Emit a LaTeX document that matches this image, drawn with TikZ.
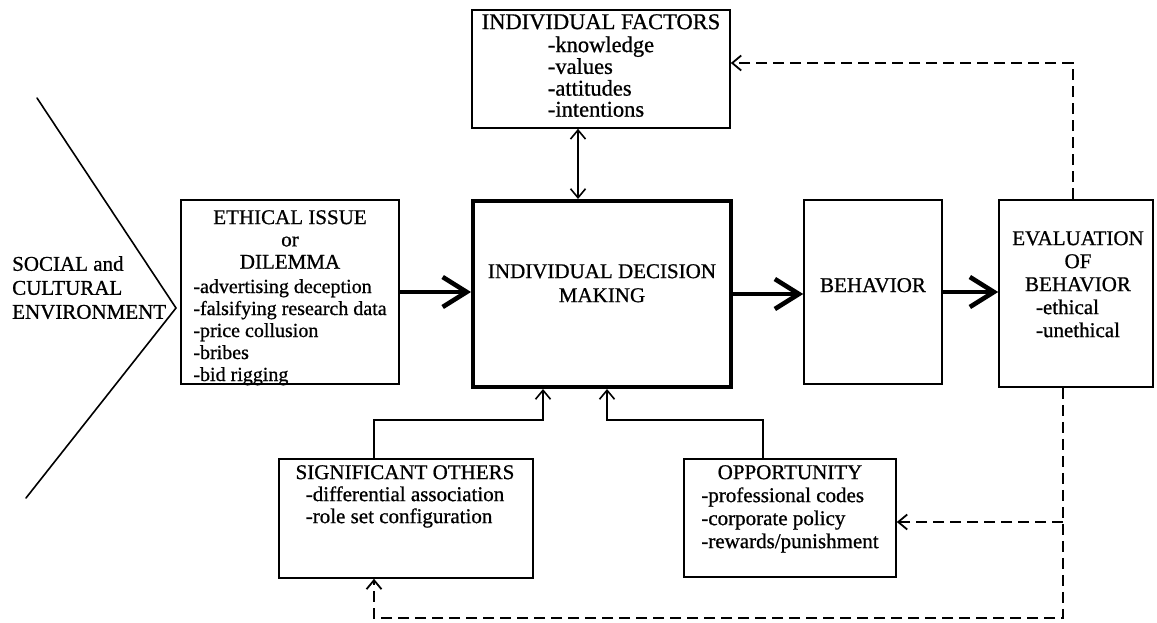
\documentclass[tikz,border=0pt]{standalone}
\usepackage{fontspec}
\setmainfont{Liberation Serif}[FakeBold=0.8]
\usetikzlibrary{arrows.meta}
\newcommand{\itemlist}[1]{\begin{tabular}[t]{@{}l@{}}#1\end{tabular}}

\begin{document}
\begin{tikzpicture}[x=1pt,y=-1pt,line cap=round,font=\fontsize{21}{22.3}\selectfont,
  box/.style={draw,line width=1.6pt,inner sep=0pt},
  txt/.style={align=center,inner sep=0pt,anchor=north},
  bigarrow/.style={line width=3.6pt,line cap=butt,-{Straight Barb[length=24pt,width=30pt,line width=4.6pt]}},
  linkarrow/.style={line width=1.6pt,-{Straight Barb[length=9pt,width=15pt]}},
  dblarrow/.style={line width=1.6pt,{Straight Barb[length=9pt,width=15pt]}-{Straight Barb[length=9pt,width=15pt]}},
  dasharrow/.style={line width=1.8pt,line cap=butt,dash pattern=on 11pt off 6pt,-{Straight Barb[length=9pt,width=15pt]}}]
\useasboundingbox (0,0) rectangle (1157,623);

\draw[line width=1.6pt] (37,98) -- (176,308) -- (26,498);
\node[txt,anchor=north west,align=left,font=\fontsize{21}{24}\selectfont] (env) at (12,256) {SOCIAL and\\CULTURAL\\ENVIRONMENT};

\node[box,minimum width=258pt,minimum height=118pt] (ifac) at (601,69) {};
\node[txt,font=\fontsize{22.5}{20.5}\selectfont] (ifactxt) at (601,14) {INDIVIDUAL FACTORS\\[2.5pt]\itemlist{-knowledge\\-values\\-attitudes\\-intentions}};

\node[box,minimum width=218pt,minimum height=184pt] (eth) at (290,292) {};
\node[txt] (ethtxt) at (290,210) {ETHICAL ISSUE\\or\\DILEMMA\\[2pt]{\fontsize{20}{22}\selectfont\itemlist{-advertising deception\\-falsifying research data\\-price collusion\\-bribes\\-bid rigging}}};

\node[box,line width=4pt,minimum width=258pt,minimum height=186pt] (idm) at (602,294) {};
\node[txt,font=\fontsize{21}{24}\selectfont] (idmtxt) at (602,264) {INDIVIDUAL DECISION\\MAKING};

\node[box,minimum width=138pt,minimum height=184pt] (beh) at (873,292) {};
\node[txt,anchor=base] (behtxt) at (873,292) {BEHAVIOR};

\node[box,minimum width=154pt,minimum height=187pt] (eval) at (1076,293.5) {};
\node[txt,font=\fontsize{21}{23}\selectfont] (evaltxt) at (1078,231) {EVALUATION\\OF\\BEHAVIOR\\\itemlist{-ethical\\-unethical}};

\node[box,minimum width=254pt,minimum height=119pt] (sig) at (406,518.5) {};
\node[txt,font=\fontsize{21}{22}\selectfont] (sigtxt) at (405,465) {SIGNIFICANT OTHERS\\\itemlist{-differential association\\-role set configuration}};

\node[box,minimum width=212pt,minimum height=118pt] (opp) at (790,518) {};
\node[txt,font=\fontsize{21}{23}\selectfont] (opptxt) at (790,465) {OPPORTUNITY\\\itemlist{-professional codes\\-corporate policy\\-rewards/punishment}};

\draw[bigarrow] (eth.east) -- (eth.east -| idm.west);
\draw[bigarrow] (idm.east) -- (idm.east -| beh.west);
\draw[bigarrow] (beh.east) -- (beh.east -| eval.west);
\draw[dblarrow] ([xshift=-23pt]ifac.south) -- ([xshift=-23pt]ifac.south |- idm.north);
\draw[linkarrow] ([xshift=-32pt]sig.north) -- ++(0,-38) -| ([xshift=-59pt]idm.south);
\draw[linkarrow] ([xshift=-27pt]opp.north) -- ++(0,-38) -| ([xshift=5pt]idm.south);
\draw[dasharrow] ([xshift=-3pt]eval.north) |- ([yshift=6pt]ifac.east);
\draw[dasharrow] ([xshift=-13pt]eval.south) -- ++(0,230) -| ([xshift=-32pt]sig.south);
\draw[dasharrow] ([xshift=-13pt,yshift=-4pt]eval.south |- opp.east) -- ([yshift=-4pt]opp.east);
\end{tikzpicture}
\end{document}
